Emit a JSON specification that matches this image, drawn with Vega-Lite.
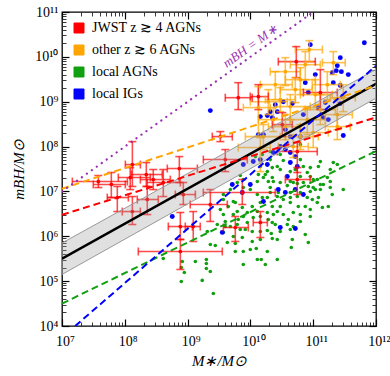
{
"$schema":"https://vega.github.io/schema/vega-lite/v6.json",
"width":314,"height":314,
"autosize":{"type":"none"},
"padding":{"left":62,"top":12,"right":14,"bottom":50},
"background":"white",
"config":{"view":{"stroke":"black","strokeWidth":1.3},"font":"Liberation Serif",
 "axis":{"grid":false,"domain":false,"labelFont":"Liberation Serif","titleFont":"Liberation Serif","labelColor":"black","titleColor":"black","tickColor":"black","labelOverlap":false,"labelFlush":false}},
"datasets":{
"agn":[{"x":1.55e10,"y":6.64e7},{"x":2.07e10,"y":5.13e7},{"x":1.44e10,"y":3.59e7},{"x":1.73e10,"y":2.38e7},{"x":2.99e10,"y":3.08e7},{"x":2.32e10,"y":1.66e7},{"x":6.24e10,"y":1.11e8},{"x":4.82e10,"y":1.58e7},{"x":8.05e10,"y":2.64e7},{"x":1.00e11,"y":1.84e7},{"x":1.30e11,"y":1.43e7},{"x":1.87e11,"y":1.66e7},{"x":2.09e11,"y":4.40e7},{"x":1.21e11,"y":3.59e7},{"x":1.29e10,"y":1.66e7},{"x":9.96e9,"y":1.43e7},{"x":7.71e9,"y":1.84e7},{"x":2.99e10,"y":6.64e7},{"x":3.34e10,"y":4.88e7},{"x":2.68e10,"y":3.59e7},{"x":6.24e10,"y":5.13e7},{"x":6.97e10,"y":3.59e7},{"x":8.99e10,"y":3.40e7},{"x":1.30e11,"y":4.63e7},{"x":2.42e11,"y":3.97e7},{"x":1.87e11,"y":3.08e7},{"x":1.68e11,"y":2.04e7},{"x":8.99e10,"y":2.15e7},{"x":1.16e11,"y":1.84e7},{"x":6.24e10,"y":2.15e7},{"x":5.19e10,"y":3.08e7},{"x":4.32e10,"y":2.77e7},{"x":2.23e10,"y":2.04e7},{"x":2.07e10,"y":1.22e7},{"x":2.68e10,"y":7.69e6},{"x":3.34e10,"y":6.61e6},{"x":4.32e10,"y":7.31e6},{"x":5.58e10,"y":7.69e6},{"x":8.05e10,"y":7.31e6},{"x":9.68e10,"y":6.61e6},{"x":1.21e11,"y":7.31e6},{"x":1.30e11,"y":1.10e7},{"x":1.00e11,"y":1.22e7},{"x":8.99e10,"y":9.95e6},{"x":1.87e11,"y":1.22e7},{"x":3.01e11,"y":1.10e7},{"x":2.01e11,"y":8.53e6},{"x":2.23e10,"y":4.61e6},{"x":2.99e10,"y":4.61e6},{"x":4.32e10,"y":5.66e6},{"x":5.79e10,"y":4.61e6},{"x":7.48e10,"y":4.61e6},{"x":8.99e10,"y":3.95e6},{"x":1.40e11,"y":4.38e6},{"x":1.74e11,"y":4.61e6},{"x":2.32e10,"y":3.05e6},{"x":3.34e10,"y":3.05e6},{"x":4.82e10,"y":3.39e6},{"x":6.24e10,"y":3.05e6},{"x":8.99e10,"y":2.76e6},{"x":2.23e10,"y":2.03e6},{"x":4.01e10,"y":2.37e6},{"x":6.24e10,"y":2.14e6},{"x":2.49e10,"y":1.83e6},{"x":3.87e10,"y":1.83e6},{"x":3.71e9,"y":6.61e6},{"x":5.75e9,"y":5.66e6},{"x":7.43e9,"y":4.38e6},{"x":1.07e10,"y":4.61e6},{"x":1.44e10,"y":5.66e6},{"x":1.86e10,"y":7.31e6},{"x":3.71e9,"y":3.05e6},{"x":5.35e9,"y":3.05e6},{"x":7.71e9,"y":2.76e6},{"x":1.11e10,"y":2.62e6},{"x":6.18e9,"y":1.83e6},{"x":8.93e9,"y":2.03e6},{"x":3.98e9,"y":2.14e6},{"x":4.45e9,"y":4.61e6},{"x":2.97e9,"y":1.83e6},{"x":1.61e10,"y":2.04e7},{"x":1.34e10,"y":2.38e7},{"x":1.86e10,"y":2.77e7},{"x":2.23e10,"y":3.40e7},{"x":3.32e9,"y":3.95e6},{"x":8.24e8,"y":2.75e5},{"x":7.94e8,"y":2.02e5},{"x":8.87e8,"y":1.56e5},{"x":7.94e8,"y":9.85e4},{"x":1.33e9,"y":2.75e5},{"x":1.99e9,"y":3.04e5},{"x":1.99e9,"y":2.48e5},{"x":1.99e9,"y":1.92e5},{"x":2.30e9,"y":1.64e5},{"x":1.71e9,"y":1.04e5},{"x":2.57e9,"y":5.32e4},{"x":2.30e9,"y":6.57e5},{"x":2.76e9,"y":6.24e5},{"x":5.75e9,"y":4.58e5},{"x":7.71e9,"y":4.58e5},{"x":9.96e9,"y":5.08e5},{"x":1.24e10,"y":5.35e5},{"x":5.75e9,"y":6.92e5},{"x":1.49e10,"y":3.04e5},{"x":1.73e10,"y":2.35e5},{"x":7.71e9,"y":2.35e5},{"x":1.07e10,"y":1.28e6},{"x":1.44e10,"y":1.28e6},{"x":1.86e10,"y":1.35e6},{"x":2.23e10,"y":8.93e5},{"x":1.44e10,"y":8.49e5},{"x":7.43e9,"y":9.40e5},{"x":8.30e9,"y":1.42e6},{"x":3.98e9,"y":1.65e6},{"x":2.06e9,"y":1.28e6},{"x":2.15e10,"y":1.15e6},{"x":4.65e10,"y":8.49e5},{"x":4.48e10,"y":5.63e5},{"x":8.36e10,"y":7.28e5},{"x":2.68e10,"y":3.04e5},{"x":4.82e10,"y":1.65e6},{"x":4.10e8,"y":3.20e5},{"x":6.18e9,"y":1.58e7},{"x":4.79e9,"y":1.10e7},{"x":3.71e9,"y":8.53e6},{"x":9.96e9,"y":1.10e7},{"x":1.29e10,"y":8.53e6},{"x":1.55e10,"y":7.31e6},{"x":3.87e10,"y":1.35e7},{"x":5.58e10,"y":1.50e7},{"x":6.97e10,"y":1.58e7},{"x":1.45e11,"y":1.43e7},{"x":6.24e10,"y":9.44e6},{"x":5.35e9,"y":5.96e6},{"x":8.93e9,"y":3.39e6},{"x":1.29e10,"y":3.56e6},{"x":1.86e10,"y":3.39e6},{"x":1.16e11,"y":5.66e6},{"x":1.44e10,"y":2.76e6},{"x":6.90e9,"y":1.42e6},{"x":2.99e10,"y":1.28e6},{"x":7.48e10,"y":1.10e6},{"x":3.71e9,"y":1.22e6},{"x":5.35e9,"y":9.90e5},{"x":1.07e10,"y":7.66e5},{"x":4.29e9,"y":7.28e5},{"x":1.86e10,"y":4.58e5},{"x":1.29e10,"y":3.04e5},{"x":1.20e10,"y":5.98e7},{"x":2.07e10,"y":7.74e7},{"x":6.90e9,"y":2.26e7},{"x":1.93e10,"y":1.66e7},{"x":2.99e10,"y":1.58e7},{"x":4.32e10,"y":1.66e7},{"x":8.36e10,"y":1.29e7},{"x":1.08e11,"y":1.10e7},{"x":2.78e10,"y":9.44e6},{"x":2.07e10,"y":9.44e6},{"x":4.32e10,"y":9.44e6},{"x":7.71e9,"y":1.22e7},{"x":6.18e9,"y":3.56e6},{"x":2.68e10,"y":3.56e6},{"x":6.41e9,"y":2.37e6},{"x":1.93e10,"y":2.37e6},{"x":4.79e9,"y":1.65e6},{"x":4.32e10,"y":1.42e6},{"x":2.68e10,"y":8.49e5}],
"ig":[{"x":6.52e11,"y":2.07e10},{"x":8.99e10,"y":1.87e10},{"x":2.70e11,"y":9.60e9},{"x":2.42e11,"y":6.37e9},{"x":2.01e11,"y":4.45e9},{"x":2.33e11,"y":4.93e9},{"x":2.81e11,"y":4.68e9},{"x":3.62e11,"y":4.02e9},{"x":2.09e11,"y":2.66e9},{"x":2.70e11,"y":2.29e9},{"x":1.08e11,"y":4.02e9},{"x":7.48e10,"y":2.66e9},{"x":8.36e10,"y":1.60e9},{"x":2.91e11,"y":1.30e9},{"x":3.34e10,"y":1.00e9},{"x":4.65e10,"y":9.08e8},{"x":6.97e10,"y":5.16e8},{"x":2.68e10,"y":6.01e8},{"x":2.23e10,"y":4.43e8},{"x":1.21e11,"y":7.40e8},{"x":1.45e11,"y":4.43e8},{"x":1.74e11,"y":3.99e8},{"x":3.60e10,"y":2.39e8},{"x":2.70e11,"y":9.08e8},{"x":6.24e10,"y":1.67e8},{"x":4.32e10,"y":1.67e8},{"x":2.30e9,"y":6.34e8},{"x":1.44e10,"y":4.66e8},{"x":1.86e10,"y":4.90e8},{"x":2.07e10,"y":6.01e8},{"x":2.49e10,"y":8.61e8},{"x":1.34e10,"y":1.85e8},{"x":1.61e10,"y":1.85e8},{"x":3.01e11,"y":1.76e8},{"x":2.99e10,"y":1.00e8},{"x":1.11e10,"y":4.63e7},{"x":1.44e10,"y":5.13e7},{"x":1.86e10,"y":3.97e7},{"x":7.71e9,"y":3.97e7},{"x":5.15e9,"y":1.43e7},{"x":9.96e9,"y":1.43e7},{"x":7.43e9,"y":9.44e6},{"x":1.61e10,"y":5.96e6},{"x":5.70e8,"y":2.76e6},{"x":3.60e10,"y":8.57e7},{"x":4.32e10,"y":7.35e7},{"x":5.19e10,"y":5.98e7},{"x":4.32e10,"y":4.40e7},{"x":3.87e10,"y":2.15e7},{"x":2.78e10,"y":1.10e7},{"x":3.60e10,"y":9.44e6},{"x":5.19e10,"y":1.10e7},{"x":6.97e10,"y":8.53e6},{"x":2.99e10,"y":1.57e6},{"x":5.19e10,"y":1.49e6},{"x":2.32e10,"y":7.35e7},{"x":3.57e9,"y":1.22e6},{"x":5.58e10,"y":3.59e7},{"x":1.56e11,"y":9.55e8}],
"eb":[
{"g":"other z ≳ 6 AGNs","x":8.67e10,"xlo":5.19e10,"xhi":1.40e11,"y":1.45e10,"ylo":7.82e9,"yhi":2.30e10},
{"g":"other z ≳ 6 AGNs","x":3.60e10,"xlo":2.07e10,"xhi":6.24e10,"y":4.68e9,"ylo":2.29e9,"yhi":9.60e9},
{"g":"other z ≳ 6 AGNs","x":6.24e10,"xlo":3.60e10,"xhi":1.08e11,"y":3.10e9,"ylo":1.44e9,"yhi":5.74e9},
{"g":"other z ≳ 6 AGNs","x":1.68e11,"xlo":9.68e10,"xhi":2.70e11,"y":2.40e9,"ylo":1.11e9,"yhi":4.68e9},
{"g":"other z ≳ 6 AGNs","x":2.09e11,"xlo":1.40e11,"xhi":3.24e11,"y":7.43e9,"ylo":4.02e9,"yhi":1.31e10},
{"g":"other z ≳ 6 AGNs","x":2.99e10,"xlo":1.73e10,"xhi":5.19e10,"y":1.11e9,"ylo":6.01e8,"yhi":2.06e9},
{"g":"other z ≳ 6 AGNs","x":4.32e10,"xlo":2.49e10,"xhi":8.99e10,"y":7.78e8,"ylo":3.99e8,"yhi":1.44e9},
{"g":"other z ≳ 6 AGNs","x":1.30e11,"xlo":7.48e10,"xhi":2.25e11,"y":6.67e8,"ylo":3.09e8,"yhi":1.44e9},
{"g":"other z ≳ 6 AGNs","x":8.05e10,"xlo":4.32e10,"xhi":1.56e11,"y":3.99e8,"ylo":1.85e8,"yhi":7.40e8},
{"g":"other z ≳ 6 AGNs","x":2.42e11,"xlo":1.56e11,"xhi":3.90e11,"y":2.79e8,"ylo":1.43e8,"yhi":5.16e8},
{"g":"other z ≳ 6 AGNs","x":3.60e10,"xlo":1.93e10,"xhi":6.24e10,"y":2.79e8,"ylo":1.43e8,"yhi":5.16e8},
{"g":"other z ≳ 6 AGNs","x":6.24e10,"xlo":3.60e10,"xhi":1.21e11,"y":1.67e8,"ylo":8.57e7,"yhi":3.09e8},
{"g":"other z ≳ 6 AGNs","x":1.00e11,"xlo":6.24e10,"xhi":1.74e11,"y":2.05e8,"ylo":9.51e7,"yhi":3.99e8},
{"g":"other z ≳ 6 AGNs","x":2.42e11,"xlo":1.56e11,"xhi":4.20e11,"y":5.16e8,"ylo":2.39e8,"yhi":1.11e9},
{"g":"other z ≳ 6 AGNs","x":4.82e10,"xlo":2.78e10,"xhi":8.36e10,"y":1.00e8,"ylo":5.69e7,"yhi":1.85e8},
{"g":"other z ≳ 6 AGNs","x":1.61e10,"xlo":8.30e9,"xhi":2.99e10,"y":1.67e8,"ylo":8.57e7,"yhi":3.09e8},
{"g":"other z ≳ 6 AGNs","x":1.44e10,"xlo":6.41e9,"xhi":2.07e10,"y":9.51e7,"ylo":2.77e7,"yhi":1.58e8},
{"g":"other z ≳ 6 AGNs","x":1.34e10,"xlo":7.71e9,"xhi":2.07e10,"y":7.40e8,"ylo":1.67e8,"yhi":2.17e9},
{"g":"other z ≳ 6 AGNs","x":1.93e10,"xlo":9.96e9,"xhi":3.87e10,"y":1.00e9,"ylo":5.16e8,"yhi":1.86e9},
{"g":"other z ≳ 6 AGNs","x":5.19e10,"xlo":2.99e10,"xhi":9.68e10,"y":1.86e9,"ylo":9.55e8,"yhi":3.44e9},
{"g":"other z ≳ 6 AGNs","x":1.08e11,"xlo":6.24e10,"xhi":2.01e11,"y":1.44e9,"ylo":7.40e8,"yhi":3.10e9},
{"g":"other z ≳ 6 AGNs","x":2.49e10,"xlo":1.44e10,"xhi":4.65e10,"y":2.40e9,"ylo":1.11e9,"yhi":4.68e9},
{"g":"other z ≳ 6 AGNs","x":3.01e11,"xlo":1.87e11,"xhi":4.69e11,"y":1.23e9,"ylo":6.01e8,"yhi":2.40e9},
{"g":"other z ≳ 6 AGNs","x":7.48e10,"xlo":4.32e10,"xhi":1.30e11,"y":6.70e9,"ylo":3.10e9,"yhi":1.31e10},
{"g":"other z ≳ 6 AGNs","x":2.32e10,"xlo":1.34e10,"xhi":4.32e10,"y":3.99e8,"ylo":2.16e8,"yhi":7.40e8},
{"g":"JWST z ≳ 4 AGNs","x":3.79e7,"xlo":1.46e7,"xhi":1.10e8,"y":1.66e7,"ylo":1.22e7,"yhi":2.26e7},
{"g":"JWST z ≳ 4 AGNs","x":6.10e7,"xlo":3.15e7,"xhi":1.02e8,"y":1.43e7,"ylo":7.31e6,"yhi":2.64e7},
{"g":"JWST z ≳ 4 AGNs","x":1.22e8,"xlo":7.88e7,"xhi":2.55e8,"y":2.04e7,"ylo":1.10e7,"yhi":3.40e7},
{"g":"JWST z ≳ 4 AGNs","x":1.32e8,"xlo":1.02e8,"xhi":1.77e8,"y":3.97e7,"ylo":1.29e7,"yhi":1.29e8},
{"g":"JWST z ≳ 4 AGNs","x":2.20e8,"xlo":1.27e8,"xhi":3.95e8,"y":2.38e7,"ylo":1.29e7,"yhi":4.40e7},
{"g":"JWST z ≳ 4 AGNs","x":2.84e8,"xlo":1.77e8,"xhi":5.31e8,"y":1.84e7,"ylo":1.10e7,"yhi":3.08e7},
{"g":"JWST z ≳ 4 AGNs","x":4.10e8,"xlo":2.28e8,"xhi":7.66e8,"y":1.58e7,"ylo":7.69e6,"yhi":3.08e7},
{"g":"JWST z ≳ 4 AGNs","x":7.38e8,"xlo":4.75e8,"xhi":1.43e9,"y":3.24e7,"ylo":1.58e7,"yhi":5.98e7},
{"g":"JWST z ≳ 4 AGNs","x":7.60e7,"xlo":5.26e7,"xhi":1.14e8,"y":7.31e6,"ylo":3.56e6,"yhi":1.29e7},
{"g":"JWST z ≳ 4 AGNs","x":1.32e8,"xlo":9.12e7,"xhi":1.77e8,"y":3.56e6,"ylo":1.83e6,"yhi":7.69e6},
{"g":"JWST z ≳ 4 AGNs","x":2.28e8,"xlo":1.58e8,"xhi":3.41e8,"y":6.61e6,"ylo":3.05e6,"yhi":1.29e7},
{"g":"JWST z ≳ 4 AGNs","x":8.55e8,"xlo":6.37e8,"xhi":1.33e9,"y":8.53e6,"ylo":5.11e6,"yhi":1.58e7},
{"g":"JWST z ≳ 4 AGNs","x":7.66e8,"xlo":4.93e8,"xhi":1.19e9,"y":1.65e6,"ylo":8.49e5,"yhi":3.39e6},
{"g":"JWST z ≳ 4 AGNs","x":1.23e9,"xlo":9.19e8,"xhi":1.59e9,"y":1.65e6,"ylo":7.66e5,"yhi":3.56e6},
{"g":"JWST z ≳ 4 AGNs","x":7.66e8,"xlo":1.64e8,"xhi":3.57e9,"y":4.58e5,"ylo":1.82e5,"yhi":8.49e5},
{"g":"JWST z ≳ 4 AGNs","x":3.32e9,"xlo":2.47e9,"xhi":5.15e9,"y":1.67e8,"ylo":1.29e8,"yhi":2.16e8},
{"g":"JWST z ≳ 4 AGNs","x":6.41e9,"xlo":3.98e9,"xhi":1.07e10,"y":1.23e9,"ylo":6.67e8,"yhi":2.66e9},
{"g":"JWST z ≳ 4 AGNs","x":1.34e10,"xlo":9.96e9,"xhi":1.93e10,"y":1.30e9,"ylo":6.67e8,"yhi":2.40e9},
{"g":"JWST z ≳ 4 AGNs","x":5.38e10,"xlo":2.78e10,"xhi":1.08e11,"y":7.82e9,"ylo":3.44e9,"yhi":1.69e10},
{"g":"JWST z ≳ 4 AGNs","x":1.30e11,"xlo":6.97e10,"xhi":2.42e11,"y":1.60e9,"ylo":6.67e8,"yhi":5.19e9},
{"g":"JWST z ≳ 4 AGNs","x":5.58e10,"xlo":2.68e10,"xhi":1.16e11,"y":7.74e7,"ylo":2.64e7,"yhi":1.23e8},
{"g":"JWST z ≳ 4 AGNs","x":5.58e10,"xlo":3.60e10,"xhi":8.99e10,"y":1.84e7,"ylo":8.53e6,"yhi":3.40e7},
{"g":"JWST z ≳ 4 AGNs","x":2.30e9,"xlo":1.10e9,"xhi":4.29e9,"y":5.11e6,"ylo":2.14e6,"yhi":1.10e7},
{"g":"JWST z ≳ 4 AGNs","x":7.43e9,"xlo":1.78e9,"xhi":2.49e10,"y":9.44e6,"ylo":5.11e6,"yhi":1.84e7},
{"g":"JWST z ≳ 4 AGNs","x":5.75e9,"xlo":3.71e9,"xhi":9.27e9,"y":1.57e6,"ylo":7.66e5,"yhi":2.76e6},
{"g":"JWST z ≳ 4 AGNs","x":1.44e10,"xlo":1.11e10,"xhi":1.86e10,"y":2.03e6,"ylo":9.40e5,"yhi":3.56e6},
{"g":"JWST z ≳ 4 AGNs","x":3.98e9,"xlo":1.78e9,"xhi":8.93e9,"y":5.13e7,"ylo":2.77e7,"yhi":8.57e7},
{"g":"JWST z ≳ 4 AGNs","x":3.22e10,"xlo":2.23e10,"xhi":4.65e10,"y":3.09e8,"ylo":1.67e8,"yhi":5.71e8}],
"band":[{"x":1e7,"lo":1.41e5,"hi":7.08e5},{"x":1e12,"lo":1.20e9,"hi":5.25e9}],
"lines":[{"line":"fit","x":1e7,"y":3.16e5},{"line":"fit","x":1e12,"y":2.51e9},
{"line":"red","x":1e7,"y":3.02e6},{"line":"red","x":1e12,"y":4.47e8},
{"line":"orange","x":1e7,"y":1.15e7},{"line":"orange","x":1e12,"y":2.29e9},
{"line":"green","x":1e7,"y":3.16e4},{"line":"green","x":1e12,"y":7.94e7},
{"line":"blue","x":1.62e7,"y":1e4},{"line":"blue","x":1e12,"y":6.31e9},
{"line":"purple","x":1e7,"y":1e7},{"line":"purple","x":1e11,"y":1e11}]
},
"resolve":{"axis":{"x":"independent","y":"independent"}},
"layer":[
{"data":{"name":"agn"},"mark":{"type":"circle","size":13,"opacity":1,"clip":true},
 "encoding":{
  "x":{"field":"x","type":"quantitative","scale":{"type":"log","domain":[1e7,1e12],"nice":false},
   "axis":{"orient":"bottom","values":[1e7,1e8,1e9,1e10,1e11,1e12],"ticks":true,"tickSize":-7,"tickColor":"black","tickWidth":1.2,"labelExpr":"'10' + ['⁰','¹','²','³','⁴','⁵','⁶','⁷','⁸','⁹','¹⁰','¹¹','¹²'][round(log(datum.value)/LN10)]","labelFontSize":14,"labelPadding":15,"labelOffset":3,"title":"M∗/M⊙","titleFontSize":15,"titleFontStyle":"italic","titleFontWeight":"normal","titlePadding":5}},
  "y":{"field":"y","type":"quantitative","scale":{"type":"log","domain":[1e4,1e11],"nice":false},
   "axis":{"orient":"left","values":[1e4,1e5,1e6,1e7,1e8,1e9,1e10,1e11],"ticks":true,"tickSize":-7,"tickColor":"black","tickWidth":1.2,"labelExpr":"'10' + ['⁰','¹','²','³','⁴','⁵','⁶','⁷','⁸','⁹','¹⁰','¹¹','¹²'][round(log(datum.value)/LN10)]","labelFontSize":14,"labelPadding":11,"title":"mBH/M⊙","titleFontSize":15,"titleFontStyle":"italic","titleFontWeight":"normal","titlePadding":8}},
  "color":{"datum":"local AGNs","type":"nominal","scale":{"domain":["JWST z ≳ 4 AGNs","other z ≳ 6 AGNs","local AGNs","local IGs"],"range":["#ff0000","#ffa500","#10a010","#0000ff"]},
   "legend":{"orient":"none","legendX":10,"legendY":9,"title":null,"symbolType":"square","symbolSize":100,"symbolStrokeColor":"rgba(0,0,0,0.35)","symbolStrokeWidth":1,"labelFont":"Liberation Serif","labelFontSize":14,"labelColor":"black","labelOffset":6,"rowPadding":8,"padding":0,"symbolOpacity":1}}}},
{"data":{"name":"ig"},"mark":{"type":"circle","size":24,"opacity":1,"clip":true},
 "encoding":{
  "x":{"field":"x","type":"quantitative","scale":{"type":"log","domain":[1e7,1e12],"nice":false},"axis":{"orient":"top","values":[1e7,1e8,1e9,1e10,1e11,1e12],"labels":false,"ticks":true,"tickSize":7,"offset":-7,"tickColor":"black","tickWidth":1.2,"title":null}},
  "y":{"field":"y","type":"quantitative","scale":{"type":"log","domain":[1e4,1e11],"nice":false},"axis":{"orient":"right","values":[1e4,1e5,1e6,1e7,1e8,1e9,1e10,1e11],"labels":false,"ticks":true,"tickSize":7,"offset":-7,"tickColor":"black","tickWidth":1.2,"title":null}},
  "color":{"datum":"local IGs","type":"nominal","legend":null}}},
{"data":{"name":"eb"},"mark":{"type":"rule","strokeWidth":1.6,"opacity":0.7,"clip":true},
 "encoding":{
  "x":{"field":"xlo","type":"quantitative","scale":{"type":"log","domain":[1e7,1e12],"nice":false},"axis":{"orient":"bottom","values":[2e7,3e7,4e7,5e7,6e7,7e7,8e7,9e7,2e8,3e8,4e8,5e8,6e8,7e8,8e8,9e8,2e9,3e9,4e9,5e9,6e9,7e9,8e9,9e9,2e10,3e10,4e10,5e10,6e10,7e10,8e10,9e10,2e11,3e11,4e11,5e11,6e11,7e11,8e11,9e11],"labels":false,"ticks":true,"tickSize":-4,"tickColor":"#222222","tickWidth":0.9,"title":null}},
  "x2":{"field":"xhi"},
  "y":{"field":"y","type":"quantitative","scale":{"type":"log","domain":[1e4,1e11],"nice":false},"axis":{"orient":"left","values":[2e4,3e4,4e4,5e4,6e4,7e4,8e4,9e4,2e5,3e5,4e5,5e5,6e5,7e5,8e5,9e5,2e6,3e6,4e6,5e6,6e6,7e6,8e6,9e6,2e7,3e7,4e7,5e7,6e7,7e7,8e7,9e7,2e8,3e8,4e8,5e8,6e8,7e8,8e8,9e8,2e9,3e9,4e9,5e9,6e9,7e9,8e9,9e9,2e10,3e10,4e10,5e10,6e10,7e10,8e10,9e10],"labels":false,"ticks":true,"tickSize":-4,"tickColor":"#222222","tickWidth":0.9,"title":null}},
  "color":{"field":"g","type":"nominal","legend":null}}},
{"data":{"name":"eb"},"mark":{"type":"rule","strokeWidth":1.6,"opacity":0.7,"clip":true},
 "encoding":{
  "x":{"field":"x","type":"quantitative","scale":{"type":"log","domain":[1e7,1e12],"nice":false},"axis":{"orient":"top","values":[2e7,3e7,4e7,5e7,6e7,7e7,8e7,9e7,2e8,3e8,4e8,5e8,6e8,7e8,8e8,9e8,2e9,3e9,4e9,5e9,6e9,7e9,8e9,9e9,2e10,3e10,4e10,5e10,6e10,7e10,8e10,9e10,2e11,3e11,4e11,5e11,6e11,7e11,8e11,9e11],"labels":false,"ticks":true,"tickSize":4,"offset":-4,"tickColor":"#222222","tickWidth":0.9,"title":null}},
  "y":{"field":"ylo","type":"quantitative","scale":{"type":"log","domain":[1e4,1e11],"nice":false},"axis":{"orient":"right","values":[2e4,3e4,4e4,5e4,6e4,7e4,8e4,9e4,2e5,3e5,4e5,5e5,6e5,7e5,8e5,9e5,2e6,3e6,4e6,5e6,6e6,7e6,8e6,9e6,2e7,3e7,4e7,5e7,6e7,7e7,8e7,9e7,2e8,3e8,4e8,5e8,6e8,7e8,8e8,9e8,2e9,3e9,4e9,5e9,6e9,7e9,8e9,9e9,2e10,3e10,4e10,5e10,6e10,7e10,8e10,9e10],"labels":false,"ticks":true,"tickSize":4,"offset":-4,"tickColor":"#222222","tickWidth":0.9,"title":null}},
  "y2":{"field":"yhi"},
  "color":{"field":"g","type":"nominal","legend":null}}},
{"data":{"name":"eb"},"mark":{"type":"tick","orient":"vertical","size":8,"thickness":1.6,"opacity":0.7,"clip":true},
 "encoding":{
  "x":{"field":"xlo","type":"quantitative","scale":{"type":"log","domain":[1e7,1e12],"nice":false},"axis":null},
  "y":{"field":"y","type":"quantitative","scale":{"type":"log","domain":[1e4,1e11],"nice":false},"axis":null},
  "color":{"field":"g","type":"nominal","legend":null}}},
{"data":{"name":"eb"},"mark":{"type":"tick","orient":"vertical","size":8,"thickness":1.6,"opacity":0.7,"clip":true},
 "encoding":{
  "x":{"field":"xhi","type":"quantitative","scale":{"type":"log","domain":[1e7,1e12],"nice":false},"axis":null},
  "y":{"field":"y","type":"quantitative","scale":{"type":"log","domain":[1e4,1e11],"nice":false},"axis":null},
  "color":{"field":"g","type":"nominal","legend":null}}},
{"data":{"name":"eb"},"mark":{"type":"tick","orient":"horizontal","size":8,"thickness":1.6,"opacity":0.7,"clip":true},
 "encoding":{
  "x":{"field":"x","type":"quantitative","scale":{"type":"log","domain":[1e7,1e12],"nice":false},"axis":null},
  "y":{"field":"ylo","type":"quantitative","scale":{"type":"log","domain":[1e4,1e11],"nice":false},"axis":null},
  "color":{"field":"g","type":"nominal","legend":null}}},
{"data":{"name":"eb"},"mark":{"type":"tick","orient":"horizontal","size":8,"thickness":1.6,"opacity":0.7,"clip":true},
 "encoding":{
  "x":{"field":"x","type":"quantitative","scale":{"type":"log","domain":[1e7,1e12],"nice":false},"axis":null},
  "y":{"field":"yhi","type":"quantitative","scale":{"type":"log","domain":[1e4,1e11],"nice":false},"axis":null},
  "color":{"field":"g","type":"nominal","legend":null}}},
{"data":{"name":"eb"},"mark":{"type":"circle","size":14,"opacity":1,"clip":true},
 "encoding":{
  "x":{"field":"x","type":"quantitative","scale":{"type":"log","domain":[1e7,1e12],"nice":false},"axis":null},
  "y":{"field":"y","type":"quantitative","scale":{"type":"log","domain":[1e4,1e11],"nice":false},"axis":null},
  "color":{"field":"g","type":"nominal","legend":null}}},
{"data":{"name":"band"},"mark":{"type":"area","fill":"#999999","fillOpacity":0.3,"stroke":"#999999","strokeWidth":1,"clip":true},
 "encoding":{
  "x":{"field":"x","type":"quantitative","scale":{"type":"log","domain":[1e7,1e12],"nice":false},"axis":null},
  "y":{"field":"lo","type":"quantitative","scale":{"type":"log","domain":[1e4,1e11],"nice":false},"axis":null},
  "y2":{"field":"hi"}}},
{"data":{"name":"lines"},"transform":[{"filter":"datum.line === 'fit'"}],"mark":{"type":"line","color":"black","strokeWidth":2.6,"clip":true},
 "encoding":{"x":{"field":"x","type":"quantitative","scale":{"type":"log","domain":[1e7,1e12],"nice":false},"axis":null},"y":{"field":"y","type":"quantitative","scale":{"type":"log","domain":[1e4,1e11],"nice":false},"axis":null}}},
{"data":{"name":"lines"},"transform":[{"filter":"datum.line === 'red'"}],"mark":{"type":"line","color":"#ff0000","strokeWidth":2,"strokeDash":[7,4],"clip":true},
 "encoding":{"x":{"field":"x","type":"quantitative","scale":{"type":"log","domain":[1e7,1e12],"nice":false},"axis":null},"y":{"field":"y","type":"quantitative","scale":{"type":"log","domain":[1e4,1e11],"nice":false},"axis":null}}},
{"data":{"name":"lines"},"transform":[{"filter":"datum.line === 'orange'"}],"mark":{"type":"line","color":"#ffa500","strokeWidth":2,"strokeDash":[7,4],"clip":true},
 "encoding":{"x":{"field":"x","type":"quantitative","scale":{"type":"log","domain":[1e7,1e12],"nice":false},"axis":null},"y":{"field":"y","type":"quantitative","scale":{"type":"log","domain":[1e4,1e11],"nice":false},"axis":null}}},
{"data":{"name":"lines"},"transform":[{"filter":"datum.line === 'green'"}],"mark":{"type":"line","color":"#10a010","strokeWidth":2,"strokeDash":[7,4],"clip":true},
 "encoding":{"x":{"field":"x","type":"quantitative","scale":{"type":"log","domain":[1e7,1e12],"nice":false},"axis":null},"y":{"field":"y","type":"quantitative","scale":{"type":"log","domain":[1e4,1e11],"nice":false},"axis":null}}},
{"data":{"name":"lines"},"transform":[{"filter":"datum.line === 'blue'"}],"mark":{"type":"line","color":"#0000ff","strokeWidth":2,"strokeDash":[7,4],"clip":true},
 "encoding":{"x":{"field":"x","type":"quantitative","scale":{"type":"log","domain":[1e7,1e12],"nice":false},"axis":null},"y":{"field":"y","type":"quantitative","scale":{"type":"log","domain":[1e4,1e11],"nice":false},"axis":null}}},
{"data":{"name":"lines"},"transform":[{"filter":"datum.line === 'purple'"}],"mark":{"type":"line","color":"#9a30b0","strokeWidth":2.2,"strokeDash":[0.1,6],"strokeCap":"round","clip":true},
 "encoding":{"x":{"field":"x","type":"quantitative","scale":{"type":"log","domain":[1e7,1e12],"nice":false},"axis":null},"y":{"field":"y","type":"quantitative","scale":{"type":"log","domain":[1e4,1e11],"nice":false},"axis":null}}},
{"data":{"values":[{"x":9.96e9,"y":1.73e10,"t":"mBH = M∗"}]},"mark":{"type":"text","angle":324.4,"font":"Liberation Serif","fontStyle":"italic","fontSize":13,"color":"#9a30b0","align":"center","baseline":"middle"},
 "encoding":{"x":{"field":"x","type":"quantitative","scale":{"type":"log","domain":[1e7,1e12],"nice":false},"axis":null},"y":{"field":"y","type":"quantitative","scale":{"type":"log","domain":[1e4,1e11],"nice":false},"axis":null},"text":{"field":"t"}}}
]
}
